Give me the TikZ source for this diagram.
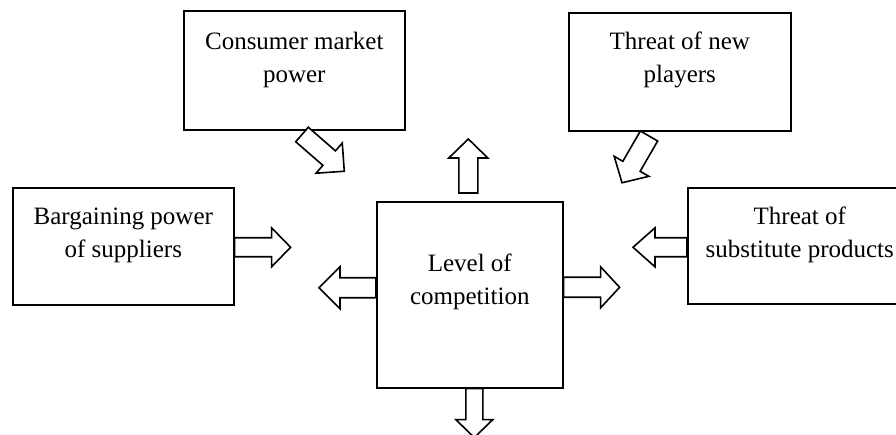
\documentclass[tikz,border=0pt]{standalone}
\usepackage{fontspec}
\setmainfont{Liberation Serif}
\usetikzlibrary{calc}
\tikzset{
  box/.style={draw, line width=1.6pt, rectangle, inner sep=0pt, anchor=north west},
  lbl/.style={align=center, inner sep=0pt, font=\fontsize{25}{33}\selectfont},
  arr/.style={draw, line width=1.6pt, line join=miter, fill=white},
}
% #1 tail point, #2 angle, #3 shaft length, #4 shaft half width, #5 head half width, #6 head length
\newcommand\blkarrow[6]{\draw[arr,shift={#1},rotate=#2] (0,-#4) -- (#3,-#4) -- (#3,-#5) -- ({#3+#6},0) -- (#3,#5) -- (#3,#4) -- (0,#4) -- cycle;}
\begin{document}
\begin{tikzpicture}[x=1pt,y=1pt]
\useasboundingbox (0,0) rectangle (896,-435);
\clip (0,0) rectangle (896,-435);
% boxes
\node[box, minimum width=221pt, minimum height=119pt] (cons) at (183,-10) {};
\node[box, minimum width=222pt, minimum height=118pt] (newp) at (568,-12) {};
\node[box, minimum width=221pt, minimum height=117pt] (barg) at (12,-187) {};
\node[box, minimum width=224pt, minimum height=116pt] (subs) at (687,-187) {};
\node[box, minimum width=186pt, minimum height=186pt] (lev) at (376,-201) {};
% labels (base anchor = baseline of the last line)
\node[lbl, anchor=base] (tcons) at ($(cons.north)+(0,-73)$) {Consumer market\\power};
\node[lbl, anchor=base] (tnewp) at ($(newp.north)+(0,-71)$) {Threat of new\\players};
\node[lbl, anchor=base] (tbarg) at ($(barg.north)+(0,-71)$) {Bargaining power\\of suppliers};
\node[lbl, anchor=base] (tsubs) at ($(subs.north)+(0,-71)$) {Threat of\\substitute products};
\node[lbl, anchor=base] (tlev) at ($(lev.north)+(0,-104)$) {Level of\\competition};
% block arrows
\blkarrow{([xshift=-1.5pt,yshift=8pt]lev.north)}{90}{35}{9.5}{19.5}{19}
\blkarrow{([xshift=4.5pt]lev.south)}{-90}{31}{8.5}{18.5}{18}
\blkarrow{([yshift=7pt]lev.west)}{180}{36}{10}{21}{21}
\blkarrow{([yshift=7.5pt]lev.east)}{0}{37}{10}{20.5}{19}
\blkarrow{([yshift=-1pt]barg.east)}{0}{37}{9.5}{19.5}{19}
\blkarrow{([yshift=-1.5pt]subs.west)}{180}{32}{9.5}{19.5}{22}
\blkarrow{(302,-134.5)}{-41}{36}{9.6}{20}{20}
\blkarrow{(649,-136)}{240}{35}{10}{20}{19}
\end{tikzpicture}
\end{document}
